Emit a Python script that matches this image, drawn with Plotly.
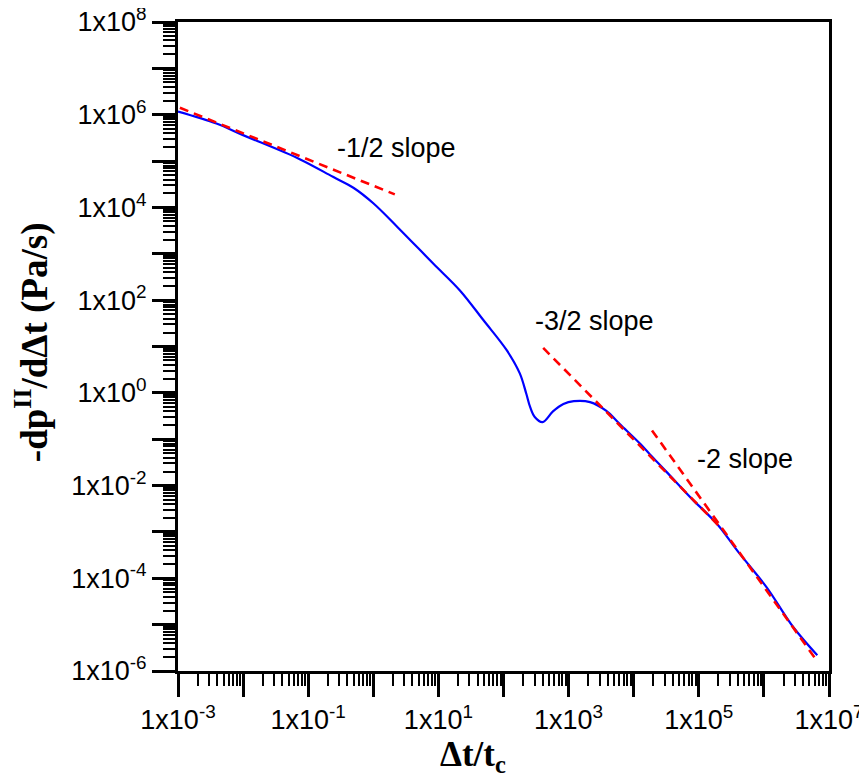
import math
import plotly.graph_objects as go

# Blue curve: -dp/dΔt vs Δt/tc
curve_x = [1.0e-3, 3.89e-3, 1.0e-2, 7.41e-2, 0.240, 0.501, 1.0, 2.34, 8.32, 21.4, 49.0,
           112, 178, 224, 257, 302, 398, 575, 832, 1202, 2138, 3802, 6166,
           12589, 17783, 31623, 83176, 104713, 199526, 398107, 1.096e6, 2.818e6, 6.607e6]
curve_y = [1.17e6, 6.46e5, 3.63e5, 1.10e5, 4.57e4, 2.63e4, 1.23e4, 3.80e3, 617, 162, 37.2,
           8.32, 2.63, 0.955, 0.490, 0.302, 0.234, 0.398, 0.575, 0.661, 0.631, 0.407, 0.209,
           0.0794, 0.0468, 0.0200, 4.72e-3, 3.47e-3, 1.38e-3, 3.80e-4, 6.46e-5, 8.91e-6, 2.19e-6]

# Reference slope lines (endpoints)
half_x = [1.07e-3, 2.14]
half_y = [1.41e6, 1.91e4]
threehalf_x = [407, 2.14e5]
threehalf_y = [9.33, 1.26e-3]
two_x = [1.91e4, 6.6e6]
two_y = [0.155, 1.62e-6]

slope_labels = ["-1/2 slope", "-3/2 slope", "-2 slope"]
label_x = [2.3, 2535, 5.1e5]
label_y = [1.89e5, 35, 0.0369]

x_exps = list(range(-3, 8))
y_exps = list(range(-6, 9))

def lab(e, show):
    return f"1x10<sup>{e}</sup>" if show else ""

xtickvals = [10.0 ** e for e in x_exps]
xticktext = [lab(e, (e + 3) % 2 == 0) for e in x_exps]
ytickvals = [10.0 ** e for e in y_exps]
yticktext = [lab(e, e % 2 == 0) for e in y_exps]

fig = go.Figure()
fig.add_trace(go.Scatter(x=curve_x, y=curve_y, mode="lines",
                         line=dict(color="#0000ff", width=2.2, shape="spline", smoothing=1.0),
                         showlegend=False))
dash = dict(color="#ff0000", width=2.6, dash="9px,6px")
for xs, ys in [(half_x, half_y), (threehalf_x, threehalf_y), (two_x, two_y)]:
    fig.add_trace(go.Scatter(x=xs, y=ys, mode="lines", line=dash, showlegend=False))

tickfont = dict(family="Liberation Sans, Arial", size=27, color="black")
axis_common = dict(type="log", showgrid=False, zeroline=False, showline=True,
                   linecolor="black", linewidth=3, mirror=True, automargin=False,
                   ticklabeloverflow="allow",
                   ticks="outside", ticklen=23, tickwidth=2.5, tickcolor="black",
                   tickmode="array", tickfont=tickfont,
                   minor=dict(ticks="outside", ticklen=12, tickwidth=1.8,
                              tickcolor="black", dtick="D1", showgrid=False))

fig.update_xaxes(range=[-3, 7], tickvals=xtickvals, ticktext=xticktext, **axis_common)
fig.update_yaxes(range=[-6, 8], tickvals=ytickvals, ticktext=yticktext, **axis_common)

for t, x, y in zip(slope_labels, label_x, label_y):
    fig.add_annotation(x=math.log10(x), y=math.log10(y), text=t, showarrow=False,
                       font=dict(family="Liberation Sans, Arial", size=27, color="black"))

fig.add_annotation(xref="paper", yref="paper", x=-0.224, y=0.507, textangle=-90,
                   xanchor="center", yanchor="middle",
                   text="<b>-dp<sup>II</sup>/dΔt (Pa/s)</b>", showarrow=False,
                   font=dict(family="Liberation Serif, Times New Roman", size=37, color="black"))
fig.add_annotation(xref="paper", yref="paper", x=0.453, y=-0.1325,
                   xanchor="center", yanchor="middle",
                   text="<b>Δt/t<sub>c</sub></b>", showarrow=False,
                   font=dict(family="Liberation Serif, Times New Roman", size=35, color="black"))

# page body adds an 8px offset; size/margins compensate so the plot box lands at the reference spot
fig.update_layout(width=859, height=776, margin=dict(l=170, r=38, t=14, b=113),
                  plot_bgcolor="white", paper_bgcolor="white")
fig.write_html("out.html")
